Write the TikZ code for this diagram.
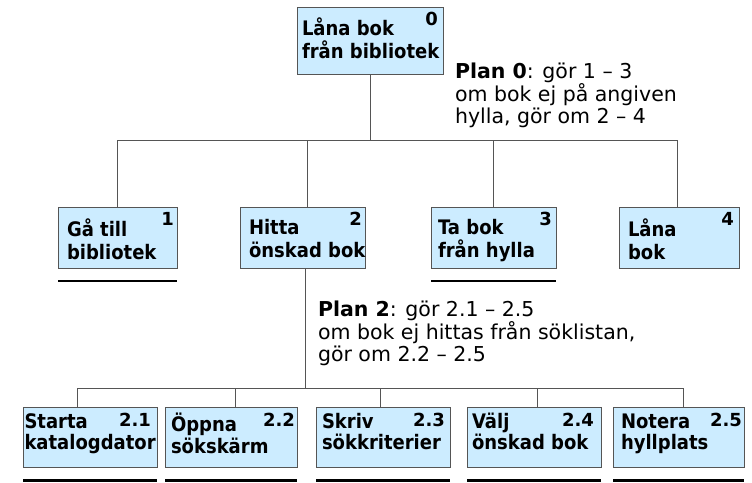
\documentclass[tikz,border=0pt]{standalone}
\usepackage{fontspec}
\setmainfont{DejaVu Sans}
\newfontfamily\boxfont{DejaVu Sans}[FakeStretch=0.9]
\definecolor{boxfill}{RGB}{204,236,255}
\definecolor{edgegray}{RGB}{85,85,85}
\newcommand{\myStrutA}{\rule{0pt}{15pt}}
\newcommand{\myStrutP}{\rule{0pt}{16pt}}
\tikzset{
  box/.style={draw=edgegray, line width=1pt, fill=boxfill, inner sep=0pt, outer sep=0pt, anchor=north west},
  btop/.style={font=\fontsize{20}{23}\selectfont\boxfont\bfseries, align=left, inner sep=0pt, outer sep=0pt, anchor=north west, text=black},
  blow/.style={font=\fontsize{20}{21.5}\selectfont\boxfont\bfseries, align=left, inner sep=0pt, outer sep=0pt, anchor=north west, text=black},
  num/.style={font=\fontsize{18}{20}\selectfont\bfseries, inner sep=0pt, outer sep=0pt, anchor=base east, text=black},
  plan/.style={font=\fontsize{20.5}{22}\selectfont, align=left, inner sep=0pt, outer sep=0pt, anchor=north west, text=black},
  conn/.style={draw=edgegray, line width=1pt},
  uline/.style={draw=black, line width=2.5pt},
}
\begin{document}
\begin{tikzpicture}[x=1pt,y=-1pt]
\path[fill=white] (0,0) rectangle (752,482);
\useasboundingbox (0,0) rectangle (752,482);

% top box
\node[box, minimum width=146pt, minimum height=67pt] (b0) at (297,7) {};
\node[btop] (b0t) at ([xshift=5pt,yshift=-11pt]b0.north west) {\myStrutA Låna bok\\från bibliotek};
\node[num] (b0n) at ([xshift=-5pt,yshift=-18pt]b0.north east) {0};

% level 1
\node[box, minimum width=119pt, minimum height=61pt] (b1) at (58,207) {};
\node[btop] (b1t) at ([xshift=9pt,yshift=-12pt]b1.north west) {\myStrutA Gå till\\bibliotek};
\node[num] (b1n) at ([xshift=-3pt,yshift=-18pt]b1.north east) {1};

\node[box, minimum width=125pt, minimum height=61pt] (b2) at (240,207) {};
\node[btop] (b2t) at ([xshift=9pt,yshift=-12pt]b2.north west) {\myStrutA Hitta\\önskad bok};
\node[num] (b2n) at ([xshift=-3pt,yshift=-18pt]b2.north east) {2};

\node[box, minimum width=125pt, minimum height=61pt] (b3) at (431,207) {};
\node[btop] (b3t) at ([xshift=7pt,yshift=-12pt]b3.north west) {\myStrutA Ta bok\\från hylla};
\node[num] (b3n) at ([xshift=-4pt,yshift=-18pt]b3.north east) {3};

\node[box, minimum width=120pt, minimum height=61pt] (b4) at (619,207) {};
\node[btop] (b4t) at ([xshift=9pt,yshift=-12pt]b4.north west) {\myStrutA Låna\\bok};
\node[num] (b4n) at ([xshift=-5pt,yshift=-18pt]b4.north east) {4};

% level 2
\node[box, minimum width=134pt, minimum height=60pt] (b21) at (23,407) {};
\node[blow] (b21t) at ([xshift=1.5pt,yshift=-6pt]b21.north west) {\myStrutA Starta\\katalogdator};
\node[num] (b21n) at ([xshift=-6pt,yshift=-19pt]b21.north east) {2.1};

\node[box, minimum width=132pt, minimum height=60pt] (b22) at (165,407) {};
\node[blow] (b22t) at ([xshift=6pt,yshift=-6pt]b22.north west) {\myStrutA Öppna\\sökskärm};
\node[num] (b22n) at ([xshift=-2pt,yshift=-19pt]b22.north east) {2.2};

\node[box, minimum width=134pt, minimum height=60pt] (b23) at (316,407) {};
\node[blow] (b23t) at ([xshift=6pt,yshift=-6pt]b23.north west) {\myStrutA Skriv\\sökkriterier};
\node[num] (b23n) at ([xshift=-5pt,yshift=-19pt]b23.north east) {2.3};

\node[box, minimum width=134pt, minimum height=60pt] (b24) at (467,407) {};
\node[blow] (b24t) at ([xshift=5pt,yshift=-6pt]b24.north west) {\myStrutA Välj\\önskad bok};
\node[num] (b24n) at ([xshift=-7pt,yshift=-19pt]b24.north east) {2.4};

\node[box, minimum width=131pt, minimum height=60pt] (b25) at (613,407) {};
\node[blow] (b25t) at ([xshift=8pt,yshift=-6pt]b25.north west) {\myStrutA Notera\\hyllplats};
\node[num] (b25n) at ([xshift=-2pt,yshift=-19pt]b25.north east) {2.5};

% plans
\node[plan] (p0) at (455,62) {\myStrutP\textbf{Plan 0}: gör 1 – 3\\om bok ej på angiven\\hylla, gör om 2 – 4};
\node[plan] (p2) at (318,300) {\myStrutP\textbf{Plan 2}: gör 2.1 – 2.5\\om bok ej hittas från söklistan,\\gör om 2.2 – 2.5};

% connectors
\coordinate (h0) at (0,140);
\coordinate (h2) at (0,388);
\draw[conn] (b0.south) -- (b0.south |- h0);
\draw[conn] (b1.north) -- (b1.north |- h0) -- ([xshift=-2pt]b4.north |- h0) -- ([xshift=-2pt]b4.north);
\draw[conn] ([xshift=4.5pt]b2.north) -- ([xshift=4.5pt]b2.north |- h0);
\draw[conn] (b3.north) -- (b3.north |- h0);
\draw[conn] ([xshift=2.5pt]b2.south) -- ([xshift=2.5pt]b2.south |- h2);
\draw[conn] ([xshift=-13pt]b21.north) -- ([xshift=-13pt]b21.north |- h2) -- ([xshift=4.5pt]b25.north |- h2) -- ([xshift=4.5pt]b25.north);
\draw[conn] ([xshift=4pt]b22.north) -- ([xshift=4pt]b22.north |- h2);
\draw[conn] ([xshift=-3pt]b23.north) -- ([xshift=-3pt]b23.north |- h2);
\draw[conn] ([xshift=3pt]b24.north) -- ([xshift=3pt]b24.north |- h2);

% underlines
\draw[uline] ([yshift=-13pt]b1.south west) -- ([yshift=-13pt]b1.south east);
\draw[uline] ([yshift=-13pt]b3.south west) -- ([yshift=-13pt]b3.south east);
\draw[uline] ([yshift=-13.5pt]b21.south west) -- ([yshift=-13.5pt]b21.south east);
\draw[uline] ([yshift=-13.5pt]b22.south west) -- ([yshift=-13.5pt]b22.south east);
\draw[uline] ([yshift=-13.5pt]b23.south west) -- ([yshift=-13.5pt]b23.south east);
\draw[uline] ([yshift=-13.5pt]b24.south west) -- ([yshift=-13.5pt]b24.south east);
\draw[uline] ([yshift=-13.5pt]b25.south west) -- ([yshift=-13.5pt]b25.south east);
\end{tikzpicture}
\end{document}
